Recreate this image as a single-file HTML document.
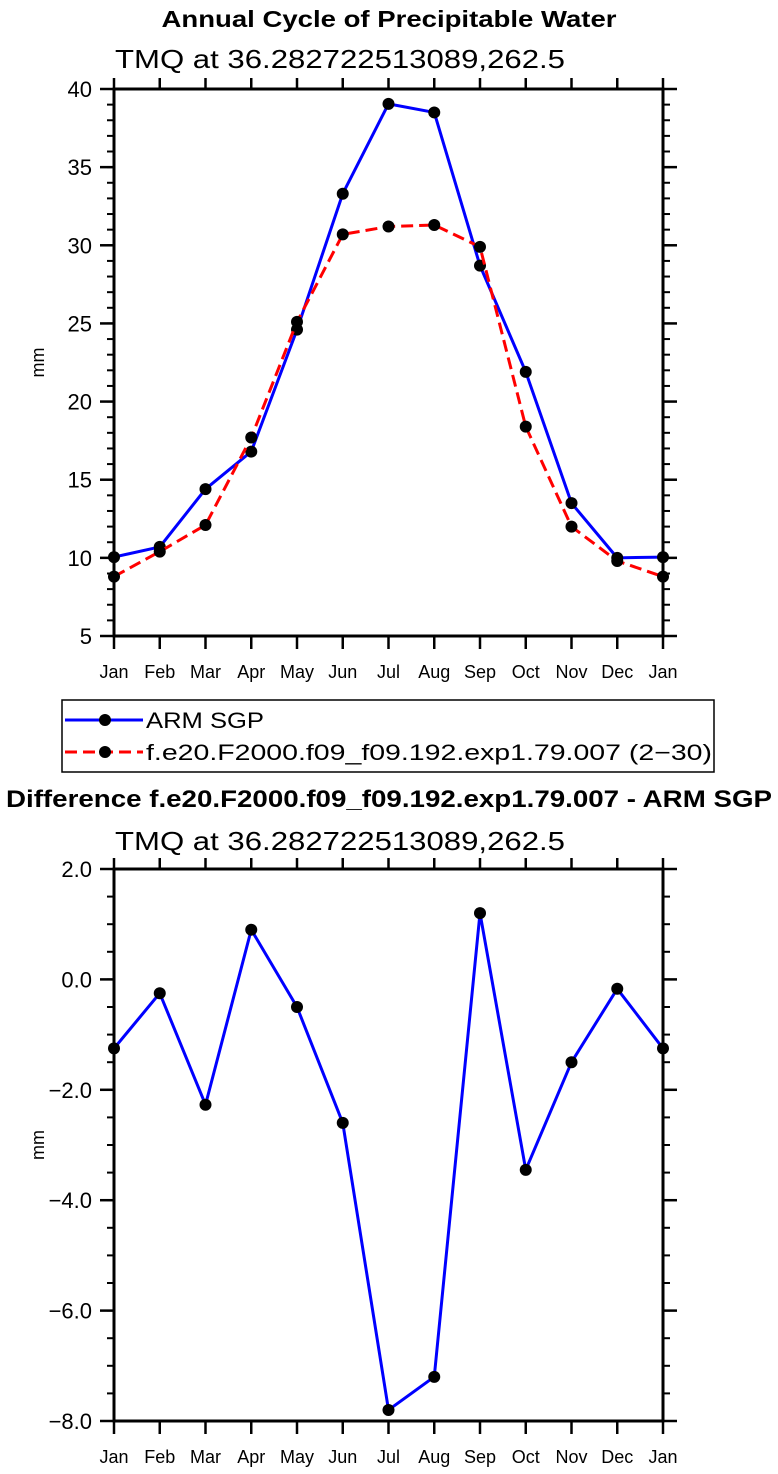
<!DOCTYPE html>
<html><head><meta charset="utf-8"><style>
html,body{margin:0;padding:0;background:#fff;}
svg{display:block;font-family:"Liberation Sans",sans-serif;}
</style></head><body>
<svg id="c" width="778" height="1474" viewBox="0 0 778 1474" xmlns="http://www.w3.org/2000/svg">
<text x="389" y="27" text-anchor="middle" font-size="23" font-weight="bold" textLength="455" lengthAdjust="spacingAndGlyphs">Annual Cycle of Precipitable Water</text>
<text x="115" y="68" font-size="26" textLength="450" lengthAdjust="spacingAndGlyphs">TMQ at 36.282722513089,262.5</text>
<text x="6" y="807" font-size="24" font-weight="bold" textLength="766" lengthAdjust="spacingAndGlyphs">Difference f.e20.F2000.f09_f09.192.exp1.79.007 - ARM SGP</text>
<text x="115" y="850" font-size="26" textLength="450" lengthAdjust="spacingAndGlyphs">TMQ at 36.282722513089,262.5</text>
<g id="topPlot"></g>
<g id="botPlot"></g>
<g>
<rect x="62" y="700" width="652" height="72" fill="none" stroke="#000" stroke-width="1.5"/>
<g>
<line x1="65" y1="720" x2="143" y2="720" stroke="#0000ff" stroke-width="3"/>
<circle cx="105" cy="720" r="6" fill="#000"/>
<text x="146" y="728" font-size="22" textLength="118" lengthAdjust="spacingAndGlyphs">ARM SGP</text>
</g>
<g>
<line x1="65" y1="752" x2="143" y2="752" stroke="#ff0000" stroke-width="3" stroke-dasharray="12,6"/>
<circle cx="105" cy="752" r="6" fill="#000"/>
<text x="146" y="760" font-size="22" textLength="566" lengthAdjust="spacingAndGlyphs">f.e20.F2000.f09_f09.192.exp1.79.007 (2−30)</text>
</g>
</g>
</svg>
<script>
const months = ["Jan","Feb","Mar","Apr","May","Jun","Jul","Aug","Sep","Oct","Nov","Dec","Jan"];
const armValues = [10.05,10.7,14.4,16.8,24.6,33.3,39.05,38.5,28.7,21.9,13.5,10.0,10.05];
const modelValues = [8.8,10.4,12.1,17.7,25.1,30.7,31.2,31.3,29.9,18.4,12.0,9.8,8.8];
const diffValues = [-1.25,-0.25,-2.27,0.9,-0.5,-2.6,-7.8,-7.2,1.2,-3.45,-1.5,-0.17,-1.25];
const topTicks = [5,10,15,20,25,30,35,40];
const topTickLabels = ["5","10","15","20","25","30","35","40"];
const botTicks = [-8,-6,-4,-2,0,2];
const botTickLabels = ["−8.0","−6.0","−4.0","−2.0","0.0","2.0"];

const NS="http://www.w3.org/2000/svg";
function mk(parent,tag,attrs){const e=document.createElementNS(NS,tag);for(const k in attrs)e.setAttribute(k,attrs[k]);parent.appendChild(e);return e;}
const X0=114,X1=663;
function xs(i){return X0+(X1-X0)*i/(months.length-1);}

function drawAxes(g,y0,y1,vmin,vmax,ticks,labels,minorStep,prefix){
  const ys=v=>y1-(v-vmin)/(vmax-vmin)*(y1-y0);
  for(let i=0;i<months.length;i++){
    const x=xs(i);
    const t1=mk(g,'line',{x1:x,y1:y1,x2:x,y2:y1+13,stroke:'#000','stroke-width':2.5});
    
    
    const t2=mk(g,'line',{x1:x,y1:y0,x2:x,y2:y0-11,stroke:'#000','stroke-width':2.5});
    
    
    const lb=mk(g,'text',{x:x,y:y1+42,'text-anchor':'middle','font-size':18});
    lb.textContent=months[i];
    
    
  }
  const n=Math.round((vmax-vmin)/minorStep);
  for(let k=0;k<=n;k++){
    const y=ys(vmin+k*minorStep);
    const m1=mk(g,'line',{x1:X0-7,y1:y,x2:X0,y2:y,stroke:'#000','stroke-width':2});
    
    
    const m2=mk(g,'line',{x1:X1,y1:y,x2:X1+7,y2:y,stroke:'#000','stroke-width':2});
    
    
  }
  ticks.forEach((v,i)=>{
    const y=ys(v);
    const a=mk(g,'line',{x1:X0-14,y1:y,x2:X0,y2:y,stroke:'#000','stroke-width':2.5});
    
    
    const b=mk(g,'line',{x1:X1,y1:y,x2:X1+14,y2:y,stroke:'#000','stroke-width':2.5});
    
    
    const t=mk(g,'text',{x:X0-22,y:y+8,'text-anchor':'end','font-size':22});
    t.textContent=labels[i];
    
    
  });
  const r=mk(g,'rect',{x:X0,y:y0,width:X1-X0,height:y1-y0,fill:'none',stroke:'#000','stroke-width':3});
  
  
  const yl=mk(g,'text',{x:0,y:0,'font-size':18,'text-anchor':'middle',transform:`translate(44,${(y0+y1)/2}) rotate(-90)`});
  yl.textContent='mm';
  
  
  return ys;
}
function drawSeries(g,vals,ys,color,dash,name){
  const pts=vals.map((v,i)=>xs(i)+','+ys(v)).join(' ');
  const attrs={points:pts,fill:'none',stroke:color,'stroke-width':3,'stroke-linejoin':'round'};
  if(dash)attrs['stroke-dasharray']=dash;
  const p=mk(g,'polyline',attrs);
  
  
  vals.forEach((v,i)=>{
    const c=mk(g,'circle',{cx:xs(i),cy:ys(v),r:6,fill:'#000'});
    
    
  });
}
const topG=document.getElementById('topPlot');
const ysT=drawAxes(topG,89,636,5,40,topTicks,topTickLabels,1,'top');
drawSeries(topG,armValues,ysT,'#0000ff',null,'arm-sgp');
drawSeries(topG,modelValues,ysT,'#ff0000','12,6','model');
const botG=document.getElementById('botPlot');
const ysB=drawAxes(botG,869,1421,-8,2,botTicks,botTickLabels,0.5,'bottom');
drawSeries(botG,diffValues,ysB,'#0000ff',null,'difference');
</script>
</body></html>
